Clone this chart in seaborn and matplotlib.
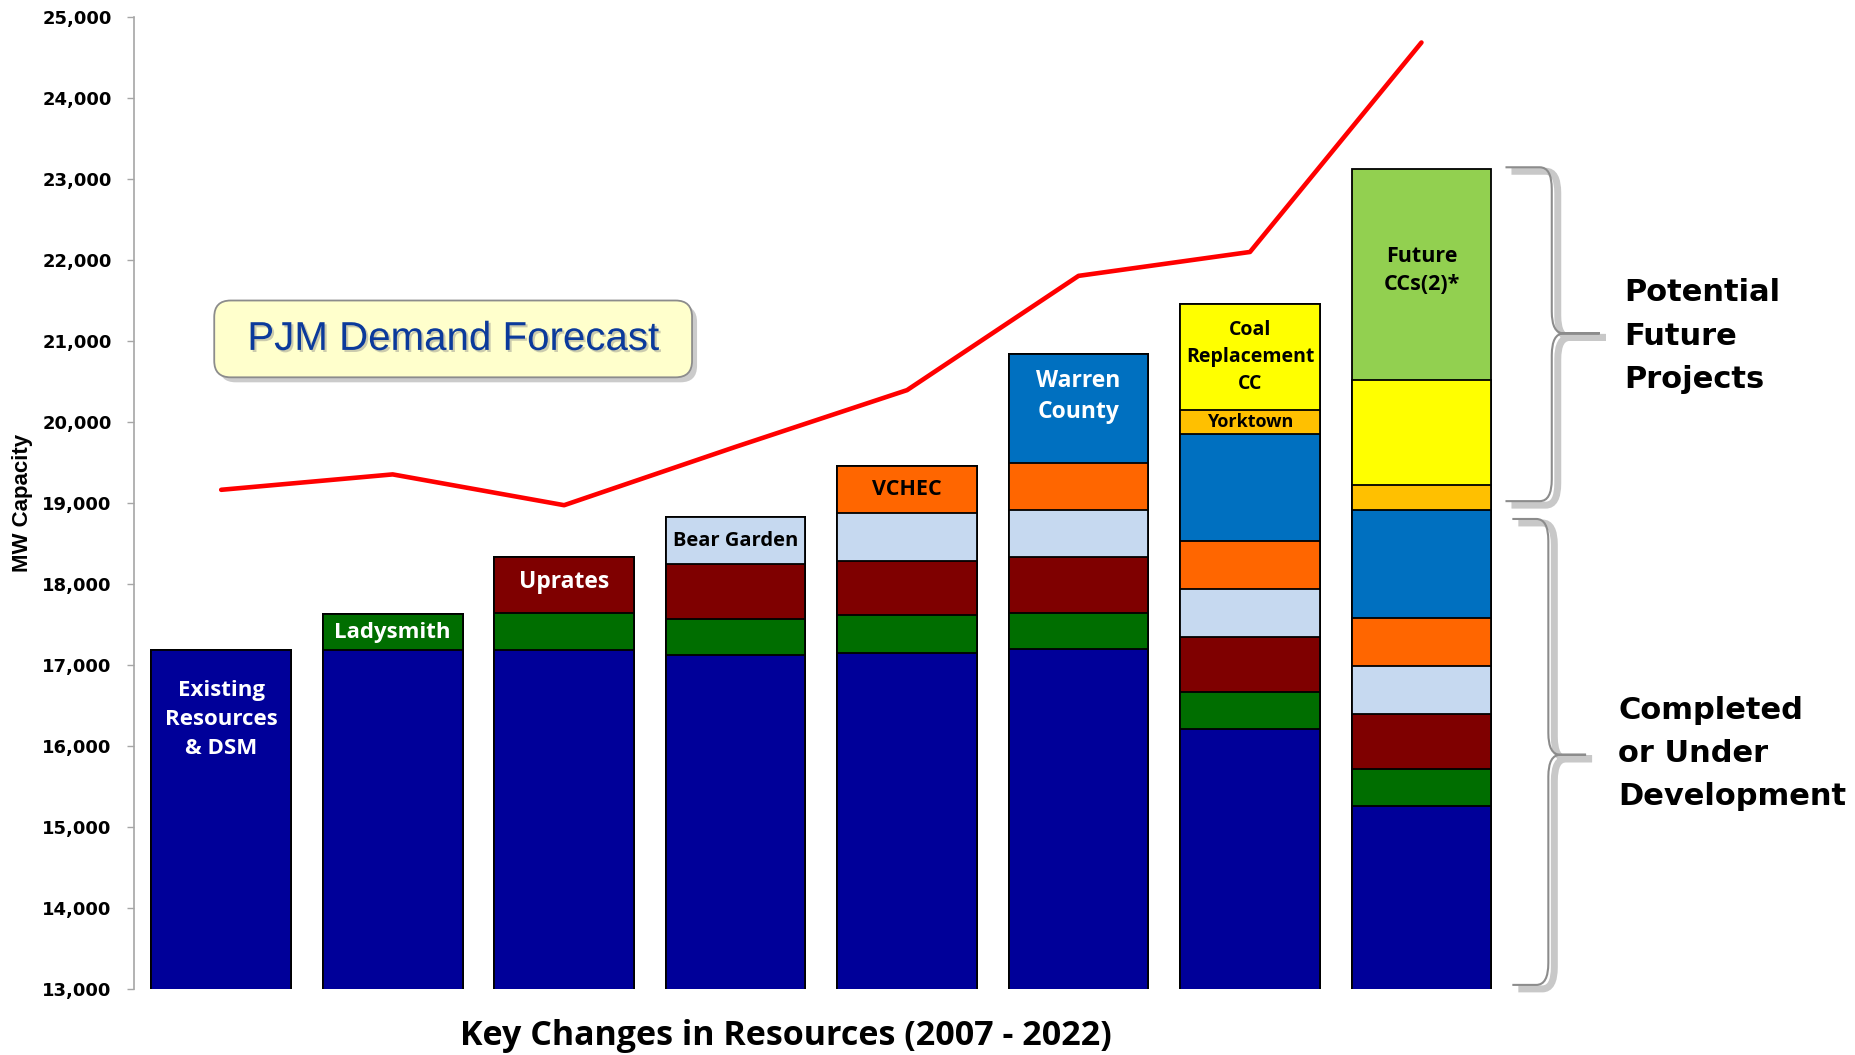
import numpy as np
import pandas as pd
import matplotlib
matplotlib.use("Agg")
import matplotlib.pyplot as plt
import seaborn as sns
import matplotlib.patheffects as pe
import matplotlib.transforms as mtransforms
from matplotlib.patches import FancyBboxPatch, PathPatch
from matplotlib.path import Path
from matplotlib.ticker import FuncFormatter, MultipleLocator

# --- data (MW) ---
steps = ['2007', 'Ladysmith', 'Uprates', 'Bear Garden', 'VCHEC',
         'Warren County', 'Coal Replacement', 'Future CCs']
existing = [17180, 17180, 17180, 17120, 17150, 17200, 16210, 15260]
ladysmith = [0, 450, 455, 450, 465, 440, 450, 450]
uprates = [0, 0, 700, 670, 670, 685, 685, 685]
bear_garden = [0, 0, 0, 585, 585, 585, 585, 585]
vchec = [0, 0, 0, 0, 585, 585, 600, 600]
warren_county = [0, 0, 0, 0, 0, 1345, 1315, 1330]
yorktown = [0, 0, 0, 0, 0, 0, 305, 305]
coal_cc = [0, 0, 0, 0, 0, 0, 1300, 1300]
future_ccs = [0, 0, 0, 0, 0, 0, 0, 2600]
pjm_forecast = [19160, 19350, 18970, 19690, 20390, 21800, 22095, 24680]

layers = ['existing', 'ladysmith', 'uprates', 'bear_garden', 'vchec',
          'warren_county', 'yorktown', 'coal_cc', 'future_ccs']
layer_colors = {
    'existing': '#000099',
    'ladysmith': '#006E00',
    'uprates': '#7F0000',
    'bear_garden': '#C6D9F0',
    'vchec': '#FF6600',
    'warren_county': '#0070C0',
    'yorktown': '#FFC000',
    'coal_cc': '#FFFF00',
    'future_ccs': '#92D050',
}

df = pd.DataFrame({
    'existing': existing, 'ladysmith': ladysmith, 'uprates': uprates,
    'bear_garden': bear_garden, 'vchec': vchec, 'warren_county': warren_county,
    'yorktown': yorktown, 'coal_cc': coal_cc, 'future_ccs': future_ccs,
}, index=steps)
cum = df[layers].cumsum(axis=1)

# text in the bars: (bar, y, text, colour, size, line spacing)
bar_labels = [
    (0, 16330, 'Existing\nResources\n& DSM', 'white', 16, 1.5),
    (1, 17400, 'Ladysmith', 'white', 16, 1.2),
    (2, 18020, 'Uprates', 'white', 16.5, 1.2),
    (3, 18530, 'Bear Garden', 'black', 14.5, 1.2),
    (4, 19160, 'VCHEC', 'black', 15.5, 1.2),
    (5, 20310, 'Warren\nCounty', 'white', 16.5, 1.35),
    (6, 20800, 'Coal\nReplacement\nCC', 'black', 14, 1.45),
    (6, 20000, 'Yorktown', 'black', 13, 1.2),
    (7, 21870, 'Future\nCCs(2)*', 'black', 15.5, 1.45),
]

sns.set_style('white')
plt.rcParams['font.family'] = ['DejaVu Sans']
plt.rcParams['text.color'] = 'black'
plt.rcParams['ytick.labelcolor'] = 'black'

fig = plt.figure(figsize=(18.55, 10.55), dpi=100)
ax = fig.add_axes([0.0721, 0.0626, 0.7404, 0.9217])

# stacked bars: draw cumulative totals from the top layer down
for layer in reversed(layers):
    sns.barplot(x=steps, y=cum[layer].values, color=layer_colors[layer],
                saturation=1, width=0.815, edgecolor='black', linewidth=1.3,
                ax=ax, zorder=2)

sns.lineplot(x=np.arange(len(steps)), y=pjm_forecast, color='#FF0000',
             linewidth=3.3, ax=ax, zorder=5)

ax.set_xlim(-0.51, 7.5)
ax.set_ylim(13000, 25000)
ax.yaxis.set_major_locator(MultipleLocator(1000))
ax.yaxis.set_major_formatter(FuncFormatter(lambda v, p: f"{int(v):,}"))
ax.set_xticks([])
ax.set_xlabel('')
ax.set_ylabel('')
for s in ['top', 'right', 'bottom']:
    ax.spines[s].set_visible(False)
ax.spines['left'].set_color('#A6A6A6')
ax.spines['left'].set_linewidth(1.2)
ax.tick_params(axis='y', length=5, width=1, color='#A6A6A6', pad=11,
               labelsize=13, left=True, labelcolor='black')
for t in ax.get_yticklabels():
    t.set_fontweight('bold')
    t.set_family('DejaVu Sans')

for i, y, txt, col, size, ls in bar_labels:
    ax.text(i, y, txt, ha='center', va='center', color=col, fontsize=size,
            fontweight='bold', family='Open Sans', linespacing=ls, zorder=6)

# PJM Demand Forecast call-out
asp = (0.7404 * 1855) / (0.9217 * 1055)
shadow_tr = mtransforms.offset_copy(ax.transAxes, fig=fig, x=5, y=-5, units='dots')
box_kw = dict(boxstyle='round,pad=0,rounding_size=0.012', mutation_aspect=asp)
ax.add_patch(FancyBboxPatch((0.0586, 0.629), 0.3479, 0.079, transform=shadow_tr,
                            facecolor='#BFBFBF', edgecolor='none', alpha=0.8,
                            clip_on=False, zorder=6, **box_kw))
ax.add_patch(FancyBboxPatch((0.0586, 0.629), 0.3479, 0.079, transform=ax.transAxes,
                            facecolor='#FFFFCC', edgecolor='#8C8C8C', linewidth=1.3,
                            clip_on=False, zorder=7, **box_kw))
ax.text(0.2325, 0.6685, 'PJM Demand Forecast', transform=ax.transAxes,
        ha='center', va='center', fontsize=29, color='#0B3A9B',
        family='Liberation Sans', zorder=8,
        path_effects=[pe.withSimplePatchShadow(offset=(1.5, -1.5),
                                               shadow_rgbFace='#7F7F7F', alpha=0.4)])


def brace(x0, x1, xt, ytop, ybot, ymid, rx, ry):
    verts = [(x0, ytop), (x1 - rx, ytop), (x1, ytop), (x1, ytop - ry),
             (x1, ymid + ry), (x1, ymid), (x1 + rx, ymid), (xt, ymid),
             (x1 + rx, ymid), (x1, ymid), (x1, ymid - ry),
             (x1, ybot + ry), (x1, ybot), (x1 - rx, ybot), (x0, ybot)]
    codes = [Path.MOVETO, Path.LINETO, Path.CURVE3, Path.CURVE3,
             Path.LINETO, Path.CURVE3, Path.CURVE3, Path.LINETO,
             Path.LINETO, Path.CURVE3, Path.CURVE3,
             Path.LINETO, Path.CURVE3, Path.CURVE3, Path.LINETO]
    path = Path(verts, codes)
    sh = mtransforms.offset_copy(ax.transData, fig=fig, x=6, y=-4, units='dots')
    ax.add_patch(PathPatch(path, facecolor='none', edgecolor='#C8C8C8',
                           linewidth=5, transform=sh, clip_on=False, zorder=3))
    ax.add_patch(PathPatch(path, facecolor='none', edgecolor='#8C8C8C',
                           linewidth=1.5, clip_on=False, zorder=4))


brace(7.49, 7.76, 8.04, 23140, 19020, 21090, 0.07, 270)
brace(7.53, 7.74, 7.96, 18800, 13050, 15890, 0.07, 270)

fig.text(0.8757, 0.6815, 'Potential\nFuture\nProjects', ha='left', va='center',
         fontsize=22, fontweight='bold', family='DejaVu Sans', linespacing=1.62,
         color='black')
fig.text(0.8725, 0.2857, 'Completed\nor Under\nDevelopment', ha='left', va='center',
         fontsize=22, fontweight='bold', family='DejaVu Sans', linespacing=1.62,
         color='black')

fig.text(0.4237, 0.018, 'Key Changes in Resources (2007 - 2022)', ha='center',
         va='center', fontsize=24.5, fontweight='bold', family='Open Sans',
         color='black')
fig.text(0.0121, 0.523, 'MW Capacity', rotation=90, ha='center', va='center',
         fontsize=16, fontweight='bold', family='Liberation Sans', color='black')

fig.savefig('out.png', dpi=100)
